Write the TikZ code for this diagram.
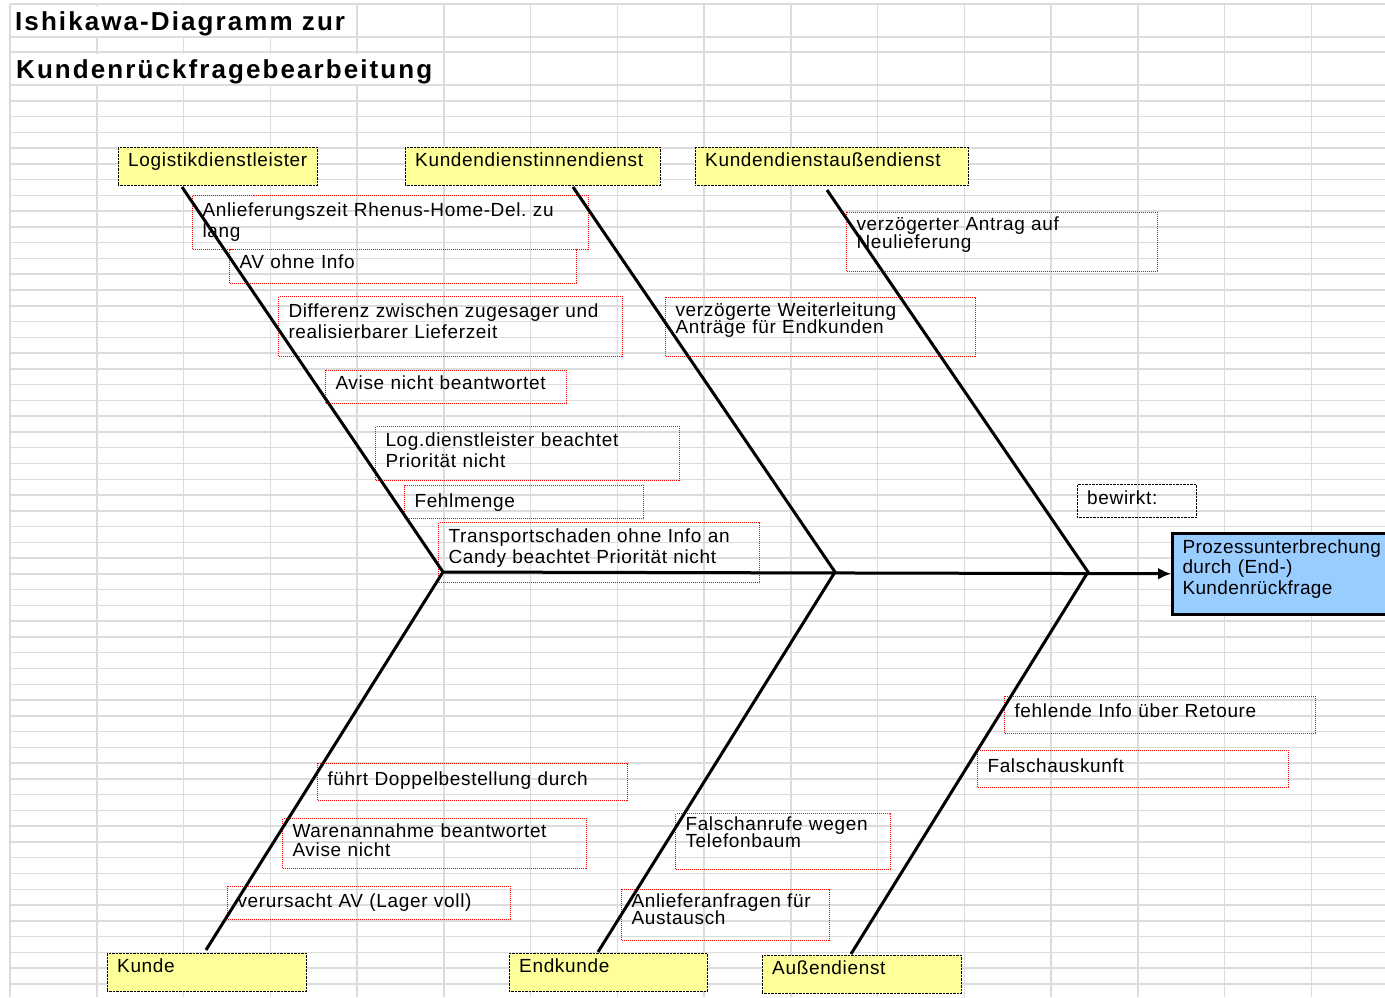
\documentclass[tikz,border=0pt]{standalone}
\usepackage{fontspec}
\setmainfont{Liberation Sans}[LetterSpace=3.5]
\newfontfamily\titlefont{Liberation Sans}[LetterSpace=8]
\usetikzlibrary{arrows.meta}
\definecolor{gitter}{RGB}{220,220,220}
\definecolor{notiz}{RGB}{255,255,153}
\definecolor{wirkung}{RGB}{153,204,255}
\frenchspacing

\begin{document}
\begin{tikzpicture}[x=1pt, y=-1pt,
    zeilen/.style={font={\fontsize{19}{#1}\selectfont\lineskiplimit=-20pt}},
    every node/.style={zeilen=20.5},
    gitterlinie/.style={draw=gitter, line width=1.5pt},
    catbox/.style={draw, densely dotted, fill=notiz, anchor=north west, inner xsep=10pt, inner ysep=0pt, align=left, text height=19pt, text depth=19pt},
    causebox/.style={draw=red, line width=1pt, densely dotted, anchor=north west, inner xsep=10pt, inner ysep=0pt, align=left},
    bone/.style={line width=3pt}]
    \useasboundingbox (0,0) rectangle (1385,997);
    \clip (0,0) rectangle (1385,997);

    % Tabellengitter
    \foreach \y in {4,37,52} \draw[gitterlinie] (10,\y) -- (1385,\y);
    \foreach \k in {0,...,57} \draw[gitterlinie] (10,85+15.77*\k) -- (1385,85+15.77*\k);
    \foreach \k in {0,...,15} \draw[gitterlinie] (10+86.75*\k,4) -- (10+86.75*\k,997);
    \fill[white] (11.5,5.5) rectangle (355.5,35.5);
    \fill[white] (11.5,53.5) rectangle (442,83.5);

    \node[anchor=base west, inner sep=0pt, font={\titlefont\bfseries\fontsize{26}{30}\selectfont}] (titel1) at (15,30) {Ishikawa-Diagramm zur};
    \node[anchor=base west, inner sep=0pt, font={\titlefont\bfseries\fontsize{26}{30}\selectfont}] (titel2) at (16,78) {Kundenrückfragebearbeitung};

    % Hauptursachen
    \node[catbox, text width=179pt] (logi) at (118,147) {Logistikdienstleister};
    \node[catbox, text width=235pt] (kin) at (405,147) {Kundendienstinnendienst};
    \node[catbox, text width=253pt] (kau) at (695,147) {Kundendienstaußendienst};
    \node[catbox, text width=179pt] (kunde) at (107,953) {Kunde};
    \node[catbox, text width=178pt] (endk) at (509,953) {Endkunde};
    \node[catbox, text width=179pt] (aussen) at (762,955) {Außendienst};

    % Nebenursachen
    \node[causebox, text width=376pt, text height=21pt, text depth=33pt] (anl) at (192,195) {Anlieferungszeit Rhenus-Home-Del. zu\\lang};
    \node[causebox, text width=327pt, text height=19pt, text depth=15pt] (av) at (229,249) {AV ohne Info};
    \node[causebox, text width=324pt, text height=21pt, text depth=39pt] (diff) at (278,296) {Differenz zwischen zugesager und\\realisierbarer Lieferzeit};
    \node[causebox, text width=221pt, text height=19pt, text depth=14pt] (avise) at (325,370) {Avise nicht beantwortet};
    \node[causebox, text width=284pt, text height=20pt, text depth=34pt] (logb) at (375,426) {Log.dienstleister beachtet\\Priorität nicht};
    \node[causebox, text width=219pt, text height=21.5pt, text depth=11.5pt] (fehl) at (404,485) {Fehlmenge};
    \node[causebox, text width=301pt, text height=20pt, text depth=40pt] (trans) at (438,522) {Transportschaden ohne Info an\\Candy beachtet Priorität nicht};
    \node[causebox, zeilen=17, text width=290pt, text height=18.5pt, text depth=40.5pt] (vweit) at (665,297) {verzögerte Weiterleitung\\Anträge für Endkunden};
    \node[causebox, zeilen=18, text width=291pt, text height=18pt, text depth=41pt] (vantr) at (846,212) {verzögerter Antrag auf\\Neulieferung};
    \node[causebox, text width=291pt, text height=21pt, text depth=16pt] (retoure) at (1004,696) {fehlende Info über Retoure};
    \node[causebox, text width=291pt, text height=22pt, text depth=15pt] (falsch) at (977,750) {Falschauskunft};
    \node[causebox, text width=290pt, text height=22pt, text depth=15pt] (doppel) at (317,763) {führt Doppelbestellung durch};
    \node[causebox, zeilen=19, text width=284pt, text height=19pt, text depth=31pt] (waren) at (282,818) {Warenannahme beantwortet\\Avise nicht};
    \node[causebox, text width=263pt, text height=21pt, text depth=12pt] (lager) at (227,886) {verursacht AV (Lager voll)};
    \node[causebox, zeilen=17, text width=195pt, text height=17pt, text depth=39pt] (anrufe) at (675,813) {Falschanrufe wegen\\Telefonbaum};
    \node[causebox, zeilen=17, text width=188pt, text height=17.5pt, text depth=33.5pt] (anfragen) at (621,889) {Anlieferanfragen für\\Austausch};

    % Wirkung
    \node[draw, densely dotted, anchor=north west, inner xsep=10pt, inner ysep=0pt, text width=99pt, text height=20pt, text depth=13pt] (bewirkt) at (1077,484) {bewirkt:};
    \node[draw, line width=3pt, fill=wirkung, anchor=north west, inner xsep=10pt, inner ysep=0pt, text width=210pt, align=left, text height=19.5pt, text depth=61pt,
        font={\fontsize{19}{20.5}\selectfont\addfontfeature{LetterSpace=2}}] (wirk) at (1171,532) {Prozessunterbrechung\\durch (End-)\\Kundenrückfrage};

    % Fischgräten
    \coordinate (j1) at (443,572);
    \coordinate (j2) at (835,572);
    \coordinate (j3) at (1088,572);
    \coordinate (t1) at (182,187);
    \coordinate (t2) at (573,187);
    \coordinate (t3) at (827,190);
    \coordinate (b1) at (206,950);
    \coordinate (b2) at (598,952);
    \coordinate (b3) at (851,954);
    \draw[bone] (t1) -- (j1) -- (b1);
    \draw[bone] (t2) -- (j2) -- (b2);
    \draw[bone] (t3) -- (j3) -- (b3);
    \draw[bone, -{Latex[length=13pt,width=12pt]}] (j1) -- (wirk.west);
\end{tikzpicture}
\end{document}
